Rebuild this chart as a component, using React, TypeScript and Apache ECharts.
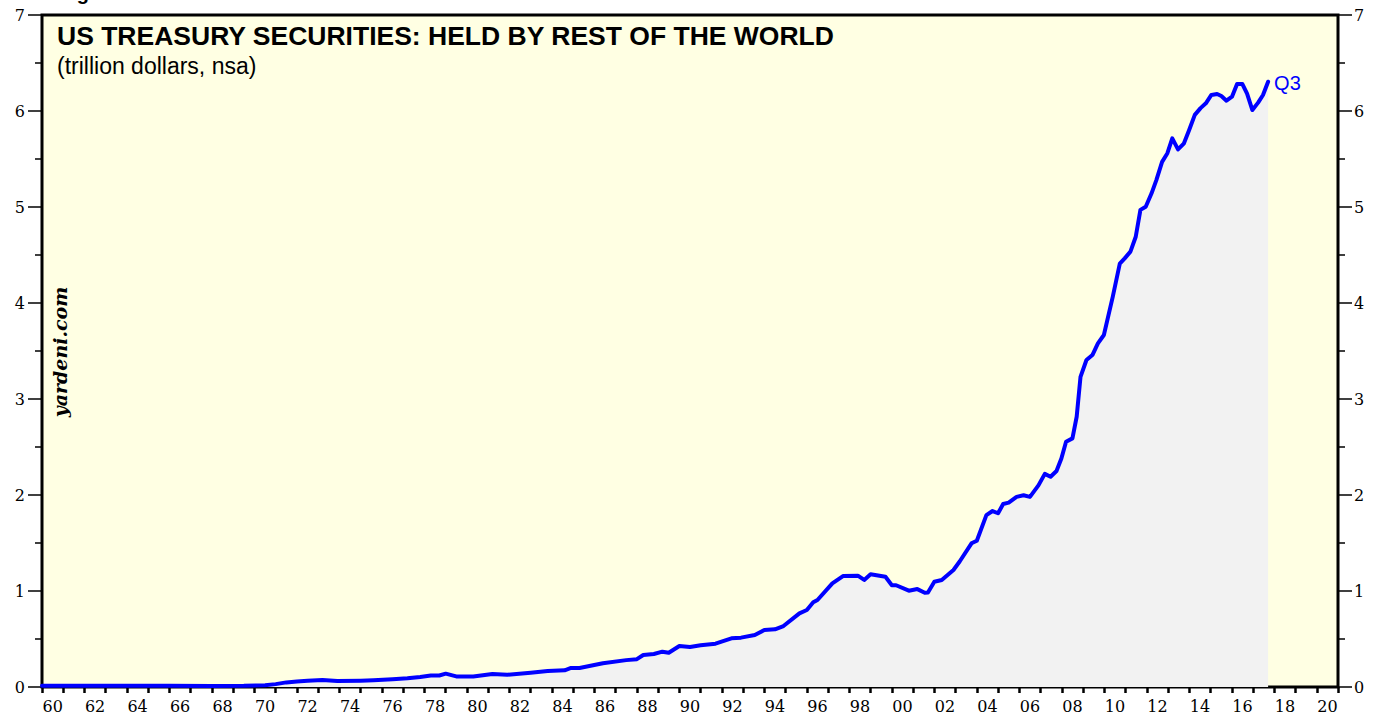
import React, { useEffect, useRef } from "react";
import * as echarts from "echarts";

const dates = [
  1960.0, 1962.0, 1964.0, 1966.0, 1968.0, 1969.5, 1970.5, 1971.0, 1971.5, 1972.0,
  1972.5, 1973.2, 1973.9, 1975.0, 1975.6, 1976.5, 1977.2, 1977.8, 1978.3, 1978.7,
  1979.0, 1979.5, 1980.3, 1981.2, 1981.9, 1983.0, 1983.8, 1984.6, 1984.9, 1985.3,
  1986.4, 1987.5, 1988.0, 1988.3, 1988.8, 1989.2, 1989.5, 1990.0, 1990.5, 1991.0,
  1991.7, 1992.45, 1992.9, 1993.55, 1994.0, 1994.5, 1994.9, 1995.65, 1996.0, 1996.3,
  1996.5, 1997.2, 1997.7, 1998.4, 1998.7, 1999.0, 1999.7, 2000.0, 2000.2, 2000.8,
  2001.2, 2001.55, 2001.7, 2002.0, 2002.35, 2002.9, 2003.2, 2003.75, 2004.0, 2004.45,
  2004.74, 2005.0, 2005.24, 2005.5, 2005.87, 2006.2, 2006.5, 2006.9, 2007.2, 2007.47,
  2007.75, 2007.98, 2008.2, 2008.5, 2008.7, 2008.88, 2009.16, 2009.44, 2009.7, 2009.98,
  2010.4, 2010.73, 2010.96, 2011.23, 2011.48, 2011.7, 2011.95, 2012.22, 2012.45, 2012.72,
  2012.97, 2013.2, 2013.47, 2013.74, 2013.99, 2014.26, 2014.53, 2014.78, 2015.04, 2015.31,
  2015.51, 2015.75, 2016.01, 2016.25, 2016.5, 2016.72, 2016.97, 2017.24, 2017.47, 2017.71,
];
const values = [
  0.012, 0.013, 0.013, 0.012, 0.011, 0.012, 0.018, 0.03, 0.048, 0.058,
  0.064, 0.073, 0.063, 0.066, 0.07, 0.08, 0.09, 0.105, 0.12, 0.12,
  0.139, 0.11, 0.11, 0.135, 0.128, 0.149, 0.167, 0.174, 0.198, 0.198,
  0.247, 0.28, 0.29, 0.333, 0.344, 0.368, 0.357, 0.427, 0.417, 0.434,
  0.451, 0.507, 0.514, 0.542, 0.594, 0.601, 0.635, 0.767, 0.802, 0.882,
  0.906, 1.08, 1.156, 1.16, 1.115, 1.174, 1.149, 1.06, 1.06, 1.003,
  1.02, 0.982, 0.985, 1.097, 1.115, 1.219, 1.31, 1.497, 1.524, 1.79,
  1.833, 1.81, 1.906, 1.92, 1.98, 1.997, 1.98, 2.1, 2.22, 2.19,
  2.25, 2.38, 2.555, 2.59, 2.815, 3.23, 3.406, 3.458, 3.58, 3.667,
  4.066, 4.41, 4.465, 4.535, 4.69, 4.97, 5.003, 5.14, 5.28, 5.47,
  5.56, 5.715, 5.6, 5.66, 5.8, 5.96, 6.03, 6.08, 6.167, 6.177,
  6.156, 6.107, 6.149, 6.28, 6.28, 6.18, 6.01, 6.087, 6.167, 6.305,
];

// One category per year on the x axis (labels shown every other year)
const yearLabels = [
  "60", "61", "62", "63", "64", "65", "66", "67", "68", "69",
  "70", "71", "72", "73", "74", "75", "76", "77", "78", "79",
  "80", "81", "82", "83", "84", "85", "86", "87", "88", "89",
  "90", "91", "92", "93", "94", "95", "96", "97", "98", "99",
  "00", "01", "02", "03", "04", "05", "06", "07", "08", "09",
  "10", "11", "12", "13", "14", "15", "16", "17", "18", "19",
  "20",
];

const title = "US TREASURY SECURITIES: HELD BY REST OF THE WORLD";
const subtitle = "(trillion dollars, nsa)";
const lastLabel = "Q3";

export default function App() {
  const ref = useRef<HTMLDivElement>(null);

  useEffect(() => {
    document.body.style.margin = "0";
    document.body.style.overflow = "hidden";
    if (!ref.current) return;
    const chart = echarts.init(ref.current, null, { renderer: "svg" });

    const serifLabel = {
      color: "#000",
      fontFamily: "DejaVu Serif",
      fontSize: 16,
    };
    const yAxisBase = {
      type: "value",
      min: 0,
      max: 7,
      interval: 1,
      axisLine: { show: false },
      axisTick: { show: true, length: 14, lineStyle: { color: "#000", width: 1.5 } },
      minorTick: { show: true, splitNumber: 2, length: 7, lineStyle: { color: "#000", width: 1.5 } },
      splitLine: { show: false },
      minorSplitLine: { show: false },
    };

    chart.setOption({
      animation: false,
      backgroundColor: "#ffffff",
      grid: {
        left: 42,
        right: 46,
        top: 15,
        bottom: 34,
        show: true,
        backgroundColor: "#FFFFE3",
        borderColor: "#000",
        borderWidth: 3,
      },
      xAxis: [
        {
          type: "category",
          data: yearLabels,
          boundaryGap: true,
          position: "bottom",
          axisLine: { show: false },
          axisTick: { show: true, interval: 0, length: 6, lineStyle: { color: "#000", width: 2.5 } },
          axisLabel: { ...serifLabel, interval: 1, margin: 11 },
          splitLine: { show: false },
        },
        {
          type: "value",
          min: 1960,
          max: 2021,
          show: false,
          splitLine: { show: false },
        },
      ],
      yAxis: [
        { ...yAxisBase, position: "left", axisLabel: { ...serifLabel, margin: 17 } },
        { ...yAxisBase, position: "right", axisLabel: { ...serifLabel, margin: 16 } },
      ],
      series: [
        {
          type: "line",
          xAxisIndex: 1,
          yAxisIndex: 0,
          data: dates.map((d, i) => [d, values[i]]),
          showSymbol: false,
          symbol: "none",
          lineStyle: { color: "#0000FF", width: 4, join: "round", cap: "round" },
          areaStyle: { color: "#F2F2F2", opacity: 1 },
          endLabel: {
            show: true,
            formatter: lastLabel,
            color: "#0000FF",
            fontFamily: "Liberation Sans",
            fontSize: 20,
            distance: 6,
            offset: [0, 1],
          },
          z: 3,
        },
      ],
      graphic: [
        {
          type: "text",
          x: 59,
          y: -7,
          style: {
            text: "Figure",
            fontFamily: "Liberation Sans",
            fontWeight: "bold",
            fontSize: 20,
            fill: "#000",
            verticalAlign: "middle",
          },
        },
        {
          type: "text",
          left: 57,
          top: 22,
          style: {
            text: title,
            fontFamily: "Liberation Sans",
            fontWeight: "bold",
            fontSize: 26.5,
            fill: "#000",
          },
          z: 10,
        },
        {
          type: "text",
          left: 57,
          top: 54,
          style: {
            text: subtitle,
            fontFamily: "Liberation Sans",
            fontSize: 23,
            fill: "#000",
          },
          z: 10,
        },
        {
          type: "text",
          x: 60,
          y: 352,
          rotation: Math.PI / 2,
          style: {
            text: "yardeni.com",
            fontFamily: "DejaVu Serif",
            fontWeight: "bold",
            fontStyle: "italic",
            fontSize: 19,
            fill: "#000",
            align: "center",
            verticalAlign: "middle",
          },
          z: 10,
        },
      ],
    });

    return () => {
      chart.dispose();
    };
  }, []);

  return <div ref={ref} style={{ width: 1384, height: 721 }} />;
}
